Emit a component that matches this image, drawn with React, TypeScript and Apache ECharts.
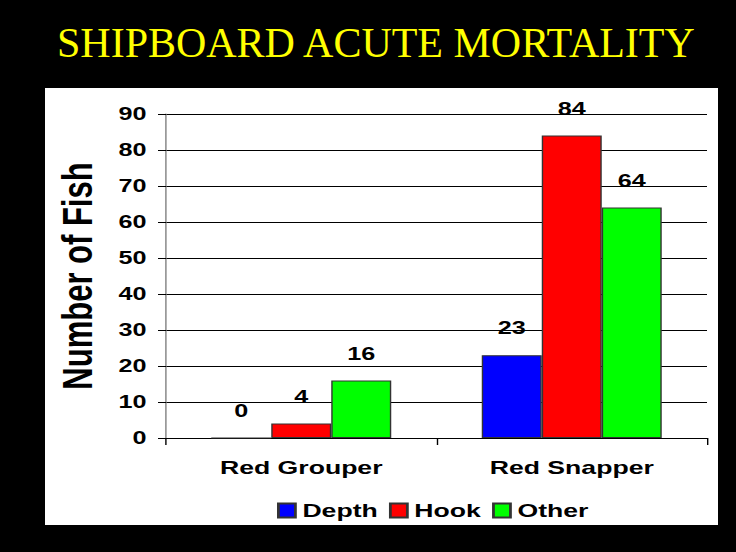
import React, { useEffect, useRef } from "react";
import * as echarts from "echarts";

const categories = ["Red Grouper", "Red Snapper"];
const depthValues = [0, 23];
const hookValues = [4, 84];
const otherValues = [16, 64];
const seriesNames = ["Depth", "Hook", "Other"];
const seriesColors = ["#0000ff", "#ff0000", "#00ff00"];
const titleText = "SHIPBOARD ACUTE MORTALITY";
const yAxisName = "Number of Fish";

const S = 1.4; // horizontal stretch of the original slide
const W = 736 / S;
const H = 552;
const FONT = "'Liberation Sans', Arial, sans-serif";

export default function App() {
  const ref = useRef<HTMLDivElement>(null);
  useEffect(() => {
    if (!ref.current) return;
    const chart = echarts.init(ref.current, null, { renderer: "svg", width: W, height: H });
    const values = [depthValues, hookValues, otherValues];
    const labelStyle = {
      show: true,
      position: "top" as const,
      distance: 18,
      color: "#000",
      fontFamily: FONT,
      fontWeight: "bold" as const,
      fontSize: 18,
    };
    chart.setOption({
      animation: false,
      backgroundColor: "#000",
      textStyle: { fontFamily: FONT },
      graphic: [
        {
          type: "rect",
          z: 0,
          shape: { x: 45 / S, y: 88, width: 673 / S, height: 437 },
          style: { fill: "#fff" },
        },
        {
          type: "text",
          x: 57 / S,
          y: 22,
          scaleX: 1 / S,
          style: {
            text: titleText,
            fill: "#ffff00",
            font: "42px 'Liberation Serif', serif",
            textVerticalAlign: "top",
          },
        },
      ],
      grid: { left: 166 / S, right: (736 - 707) / S, top: 114, bottom: H - 438, containLabel: false },
      legend: {
        data: seriesNames,
        icon: "rect",
        left: 277 / S,
        top: 501,
        padding: 0,
        itemWidth: 17 / S,
        itemHeight: 14,
        itemGap: 8,
        textStyle: { color: "#000", fontFamily: FONT, fontWeight: "bold", fontSize: 19 },
      },
      xAxis: {
        type: "category",
        data: categories,
        axisLine: { show: true, lineStyle: { color: "#000", width: 1 } },
        axisTick: { show: true, length: 7, lineStyle: { color: "#000" } },
        axisLabel: { color: "#000", fontFamily: FONT, fontWeight: "bold", fontSize: 19, margin: 20 },
        splitLine: { show: false },
      },
      yAxis: {
        type: "value",
        min: 0,
        max: 90,
        interval: 10,
        name: yAxisName,
        nameLocation: "middle",
        nameGap: 48,
        nameTextStyle: { color: "#000", fontFamily: FONT, fontWeight: "bold", fontSize: 31 },
        axisLine: { show: true, lineStyle: { color: "#808080", width: 1 } },
        axisTick: { show: true, length: 8 / S, lineStyle: { color: "#000" } },
        axisLabel: { color: "#000", fontFamily: FONT, fontWeight: "bold", fontSize: 18, margin: 14 },
        splitLine: { show: true, lineStyle: { color: "#000", width: 1 } },
      },
      series: seriesNames.map((name, i) => ({
        name,
        type: "bar",
        data: values[i],
        barWidth: 60 / S,
        barGap: "0%",
        itemStyle: { color: seriesColors[i], borderColor: "#333", borderWidth: 1 },
        label: labelStyle,
      })),
    });
    return () => chart.dispose();
  }, []);
  return (
    <div
      style={{
        position: "fixed",
        left: 0,
        top: 0,
        width: 736,
        height: H,
        background: "#000",
        overflow: "hidden",
      }}
    >
      <div
        ref={ref}
        style={{ width: W, height: H, transform: `scaleX(${S})`, transformOrigin: "0 0" }}
      />
    </div>
  );
}
